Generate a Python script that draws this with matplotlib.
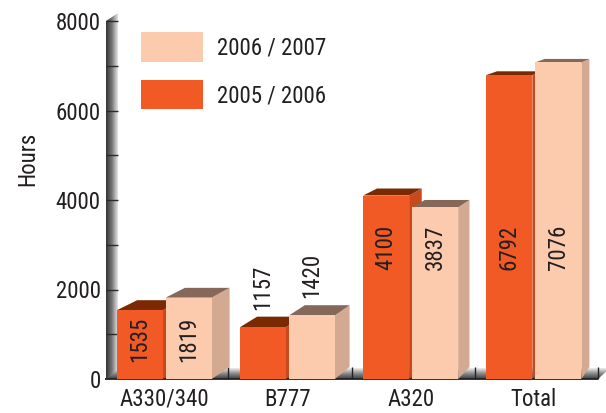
import numpy as np
import matplotlib
matplotlib.use('Agg')
import matplotlib.pyplot as plt
from matplotlib import font_manager as fm
from matplotlib.patches import Polygon, Patch
from matplotlib.colors import LinearSegmentedColormap

# ---------------- data ----------------
categories = ['A330/340', 'B777', 'A320', 'Total']
hours_2005_2006 = [1535, 1157, 4100, 6792]
hours_2006_2007 = [1819, 1420, 3837, 7076]
series_names = ['2005 / 2006', '2006 / 2007']
y_ticks = [0, 2000, 4000, 6000, 8000]
y_label = 'Hours'

# ---------------- font selection (condensed face if available) ----------------
names = {f.name for f in fm.fontManager.ttflist}
fam = ['DejaVu Sans']
for cand in ['Roboto Condensed', 'PT Sans Narrow', 'Liberation Sans Narrow']:
    if cand in names:
        fam = [cand, 'DejaVu Sans']
        break
plt.rcParams['font.family'] = fam

TXT = '#231F20'
FS = 16.5
ORANGE = dict(front='#F15A24', top='#7A2900', side='#C84A1C')
PEACH = dict(front='#FCCAAD', top='#85685A', side='#D3A991')

W, H = 606, 413
fig = plt.figure(figsize=(W / 100, H / 100), dpi=100)
ax_l, ax_r, ax_t, ax_b = 105, 606, 8, 382
ax = fig.add_axes([ax_l / W, 1 - ax_b / H, (ax_r - ax_l) / W, (ax_b - ax_t) / H])

px_x = 1 / 123.25
px_y = 1000 / 44.75
xmin = -0.48
ax.set_xlim(xmin, xmin + (ax_r - ax_l) * px_x)
ax.set_ylim(-3 * px_y, 8000 + 13 * px_y)
ax.set_facecolor('none')
for s in ax.spines.values():
    s.set_visible(False)

n = len(categories)
xpos = np.arange(n)
x_end = xmin + 493 * px_x

VX, VY, K = 5.78, 9900, 0.027


def back(x, y):
    return (x + K * (VX - x), y + K * (VY - y))


fdx, fdy = 12 * px_x, 11 * px_y
floor = Polygon([(xmin, 0), (x_end, 0), (x_end + fdx, fdy), (xmin + fdx, fdy)],
                closed=True, facecolor='none', edgecolor='none')
ax.add_patch(floor)
floor_cmap = LinearSegmentedColormap.from_list('fl', ['#3c3c3c', '#8a8a8a', '#eeeeee'])
grad_v = np.linspace(0, 1, 64).reshape(-1, 1)
im = ax.imshow(grad_v, cmap=floor_cmap, origin='lower', aspect='auto',
               extent=[xmin, x_end + fdx, 0, fdy], zorder=1, interpolation='bilinear')
im.set_clip_path(floor)
ax.plot([xmin, x_end], [0, 0], color='#222222', lw=1.3, zorder=1.5, solid_capstyle='butt')
ax.vlines(xpos + 0.52, 0, fdy * 1.1, color='#222222', lw=1.0, zorder=1.4)

wx0 = xmin + 1 * px_x
wdx = 12 * px_x
wall = Polygon([(wx0, 0), (wx0, 8000), (wx0 + wdx, 8000 + 8 * px_y), (wx0 + wdx, fdy)],
               closed=True, facecolor='none', edgecolor='none')
ax.add_patch(wall)
wall_cmap = LinearSegmentedColormap.from_list('wl', ['#333333', '#777777', '#e6e6e6'])
grad_h = np.linspace(0, 1, 64).reshape(1, -1)
im2 = ax.imshow(grad_h, cmap=wall_cmap, origin='lower', aspect='auto',
                extent=[wx0, wx0 + wdx, 0, 8000 + 8 * px_y], zorder=1.6,
                interpolation='bilinear')
im2.set_clip_path(wall)
ax.hlines(np.arange(1000, 8001, 1000), wx0, wx0 + wdx, color='#2a2a2a', lw=1.0, zorder=1.7)

bw, gap = 0.373, 0.025
bars_a = ax.bar(xpos - gap / 2 - bw, hours_2005_2006, bw, align='edge',
                color=ORANGE['front'], linewidth=0, zorder=3)
bars_b = ax.bar(xpos + gap / 2, hours_2006_2007, bw, align='edge',
                color=PEACH['front'], linewidth=0, zorder=5)


def add_depth(rect, cols, z):
    xl = rect.get_x()
    xr = xl + rect.get_width()
    h = rect.get_height()
    top = [(xl, h), (xr, h), back(xr, h), back(xl, h)]
    side = [(xr, 0), (xr, h), back(xr, h), back(xr, 0)]
    ax.add_patch(Polygon(side, closed=True, facecolor=cols['side'], edgecolor='none', zorder=z))
    ax.add_patch(Polygon(top, closed=True, facecolor=cols['top'], edgecolor='none', zorder=z))


for r in bars_a:
    add_depth(r, ORANGE, 2)
for r in bars_b:
    add_depth(r, PEACH, 4)

for bars in (bars_a, bars_b):
    for r in bars:
        v = r.get_height()
        xc = r.get_x() + r.get_width() / 2
        if v < 1500:
            y = back(xc, v)[1] + 7 * px_y
            va = 'bottom'
        elif v < 2500:
            y = 880
            va = 'center'
        else:
            y = 2950
            va = 'center'
        ax.text(xc, y, f'{int(v)}', rotation=90, ha='center', va=va,
                fontsize=FS, color=TXT, zorder=6)

ax.set_yticks(y_ticks)
ax.set_yticklabels([str(t) for t in y_ticks])
ax.set_xticks(xpos)
ax.set_xticklabels(categories)
ax.tick_params(axis='y', length=0, pad=3, labelsize=FS, labelcolor=TXT)
ax.tick_params(axis='x', length=0, pad=4, labelsize=FS, labelcolor=TXT)
fig.text(28 / W, 1 - 159 / H, y_label, rotation=90, ha='center', va='center',
         fontsize=FS, color=TXT)

handles = [Patch(facecolor=PEACH['front'], edgecolor='none'),
           Patch(facecolor=ORANGE['front'], edgecolor='none')]
leg = ax.legend(handles, [series_names[1], series_names[0]], loc='upper left',
                bbox_to_anchor=(141 / W, 1 - 32 / H), bbox_transform=fig.transFigure,
                frameon=False, fontsize=FS, handlelength=62 / 22.9, handleheight=37 / 22.9,
                labelspacing=18 / 22.9, handletextpad=14 / 22.9, borderpad=0, borderaxespad=0)
for t in leg.get_texts():
    t.set_color(TXT)

fig.savefig('out.png', dpi=100)
